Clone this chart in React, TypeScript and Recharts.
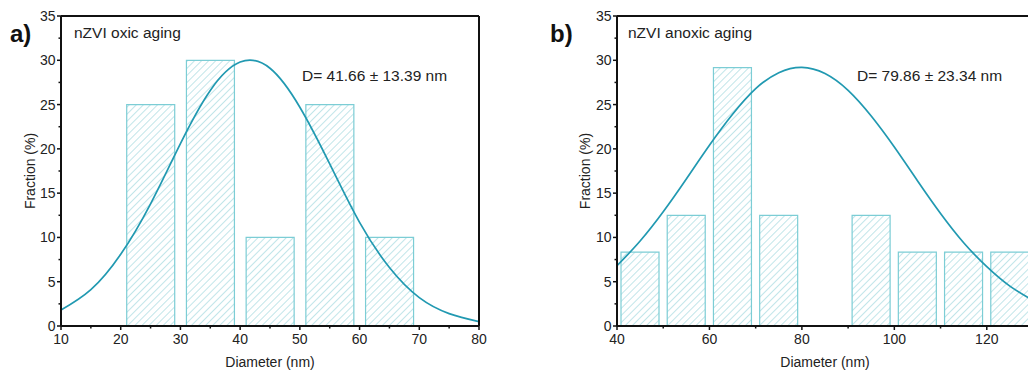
import { ComposedChart, Bar, Line, XAxis, YAxis, ReferenceLine } from "recharts";

const FONT = "'Liberation Sans', Arial, sans-serif";
const CURVE = "#2199b1";
const BAR_EDGE = "#7ccdd5";
const HATCH = "#9fd7dd";

const yTicks = [0, 2.5, 5, 7.5, 10, 12.5, 15, 17.5, 20, 22.5, 25, 27.5, 30, 32.5, 35];

// a) oxic aging
const oxicBinCenters = [25, 35, 45, 55, 65];
const oxicFraction = [25, 30, 10, 25, 10];
const oxicFitX = [10, 15, 20, 25, 30, 35, 40, 45, 50, 55, 60, 65, 70, 75, 80];
const oxicFitY = [1.8, 4.1, 8.1, 13.8, 20.6, 26.6, 29.8, 29.1, 24.7, 18.3, 11.7, 6.6, 3.2, 1.4, 0.5];
const oxicTicks = [10, 15, 20, 25, 30, 35, 40, 45, 50, 55, 60, 65, 70, 75, 80];

// b) anoxic aging
const anoxicBinCenters = [45, 55, 65, 75, 95, 105, 115, 125];
const anoxicFraction = [8.33, 12.5, 29.17, 12.5, 12.5, 8.33, 8.33, 8.33];
const anoxicFitX = [40, 45, 50, 55, 60, 65, 70, 75, 80, 85, 90, 95, 100, 105, 110, 115, 120, 125, 130];
const anoxicFitY = [6.8, 9.6, 12.9, 16.6, 20.4, 23.9, 26.8, 28.6, 29.2, 28.5, 26.6, 23.7, 20.2, 16.4, 12.7, 9.4, 6.7, 4.5, 2.9];
const anoxicTicks = [40, 50, 60, 70, 80, 90, 100, 110, 120, 130];

const YTick = (props: any) => {
  const { x, y, payload } = props;
  const v = payload.value;
  const major = v % 5 === 0;
  return (
    <g>
      <line x1={x} x2={x - (major ? 4 : 2.5)} y1={y} y2={y} stroke="#111" strokeWidth={1.5} />
      {major && (
        <text x={x - 5.5} y={y} dy="0.36em" textAnchor="end" fontSize={14} fill="#222" fontFamily={FONT}>
          {v}
        </text>
      )}
    </g>
  );
};

const makeXTick = (every: number) => (props: any) => {
  const { x, y, payload } = props;
  const v = payload.value;
  const major = v % every === 0;
  return (
    <g>
      <line x1={x} x2={x} y1={y} y2={y + (major ? 4 : 2.5)} stroke="#111" strokeWidth={1.5} />
      {major && (
        <text x={x} y={y + 18} textAnchor="middle" fontSize={14} fill="#222" fontFamily={FONT}>
          {v}
        </text>
      )}
    </g>
  );
};

interface Props {
  id: string;
  left: number;
  width: number;
  axisWidth: number;
  rightMargin: number;
  centers: number[];
  fractions: number[];
  fitX: number[];
  fitY: number[];
  domain: [number, number];
  xTicks: number[];
  labelEvery: number;
  barSize: number;
  tag: string;
  title: string;
  stats: string;
  titleX: number;
  statsX: number;
  yTitleX: number;
}

function Histogram(p: Props) {
  const bars = p.centers.map((c, i) => ({ x: c, f: p.fractions[i] }));
  const fit = p.fitX.map((x, i) => ({ x, y: p.fitY[i] }));
  const plotCenter = p.axisWidth + (p.width - p.axisWidth - p.rightMargin) / 2;

  return (
    <div style={{ position: "absolute", left: p.left, top: 0 }}>
      <ComposedChart
        width={p.width}
        height={370}
        data={bars}
        margin={{ top: 16, right: p.rightMargin, bottom: 14, left: 0 }}
      >
        <defs>
          <pattern
            id={`hatch-${p.id}`}
            patternUnits="userSpaceOnUse"
            width={5}
            height={5}
            patternTransform="rotate(45)"
          >
            <rect width={5} height={5} fill="#fff" />
            <line x1={0} y1={0} x2={0} y2={5} stroke={HATCH} strokeWidth={1.3} />
          </pattern>
        </defs>
        <XAxis
          dataKey="x"
          type="number"
          domain={p.domain}
          ticks={p.xTicks}
          interval={0}
          height={30}
          tickSize={0}
          tickMargin={0}
          tickLine={false}
          tick={makeXTick(p.labelEvery)}
          axisLine={{ stroke: "#111", strokeWidth: 2 }}
        />
        <XAxis xAxisId="fit" dataKey="x" type="number" domain={p.domain} hide allowDataOverflow />
        <YAxis
          type="number"
          domain={[0, 35]}
          ticks={yTicks}
          interval={0}
          width={p.axisWidth}
          tickSize={0}
          tickMargin={0}
          tickLine={false}
          tick={YTick}
          axisLine={{ stroke: "#111", strokeWidth: 2 }}
        />
        <Bar
          dataKey="f"
          barSize={p.barSize}
          fill={`url(#hatch-${p.id})`}
          stroke={BAR_EDGE}
          strokeWidth={1.2}
          isAnimationActive={false}
        />
        <Line
          data={fit}
          xAxisId="fit"
          dataKey="y"
          type="natural"
          dot={false}
          stroke={CURVE}
          strokeWidth={1.7}
          isAnimationActive={false}
        />
        <ReferenceLine y={35} stroke="#111" strokeWidth={2} />
        <ReferenceLine x={p.domain[1]} stroke="#111" strokeWidth={2} />
        <text x={10} y={42} fontSize={24} fontWeight="bold" fill="#111" fontFamily={FONT}>
          {p.tag}
        </text>
        <text x={p.titleX} y={37.5} fontSize={15.5} fill="#222" fontFamily={FONT}>
          {p.title}
        </text>
        <text x={p.statsX} y={81} fontSize={15.5} fill="#222" fontFamily={FONT}>
          {p.stats}
        </text>
        <text
          x={p.yTitleX}
          y={171}
          transform={`rotate(-90, ${p.yTitleX}, 171)`}
          textAnchor="middle"
          fontSize={14}
          fill="#222"
          fontFamily={FONT}
        >
          Fraction (%)
        </text>
        <text x={plotCenter} y={367} textAnchor="middle" fontSize={14} fill="#222" fontFamily={FONT}>
          Diameter (nm)
        </text>
      </ComposedChart>
    </div>
  );
}

export default function App() {
  return (
    <div
      style={{
        position: "absolute",
        left: 0,
        top: 0,
        width: 1028,
        height: 370,
        overflow: "hidden",
        background: "#fff",
      }}
    >
      <Histogram
        id="a"
        left={0}
        width={500}
        axisWidth={61}
        rightMargin={21}
        centers={oxicBinCenters}
        fractions={oxicFraction}
        fitX={oxicFitX}
        fitY={oxicFitY}
        domain={[10, 80]}
        xTicks={oxicTicks}
        labelEvery={10}
        barSize={48}
        tag="a)"
        title="nZVI oxic aging"
        stats="D= 41.66 ± 13.39 nm"
        titleX={74}
        statsX={302}
        yTitleX={35}
      />
      <Histogram
        id="b"
        left={540}
        width={515}
        axisWidth={77}
        rightMargin={22}
        centers={anoxicBinCenters}
        fractions={anoxicFraction}
        fitX={anoxicFitX}
        fitY={anoxicFitY}
        domain={[40, 130]}
        xTicks={anoxicTicks}
        labelEvery={20}
        barSize={38}
        tag="b)"
        title="nZVI anoxic aging"
        stats="D= 79.86 ± 23.34 nm"
        titleX={88}
        statsX={317}
        yTitleX={50}
      />
    </div>
  );
}
